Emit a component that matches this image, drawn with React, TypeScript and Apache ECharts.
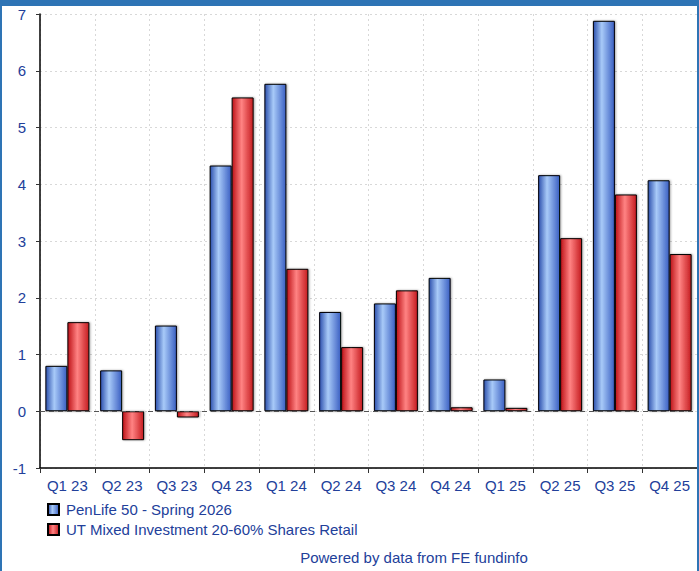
import React, { useEffect, useRef } from "react";
import * as echarts from "echarts";

const categories = ["Q1 23", "Q2 23", "Q3 23", "Q4 23", "Q1 24", "Q2 24", "Q3 24", "Q4 24", "Q1 25", "Q2 25", "Q3 25", "Q4 25"];
const penlife = [0.8, 0.72, 1.51, 4.33, 5.77, 1.75, 1.9, 2.35, 0.56, 4.16, 6.88, 4.07];
const sector = [1.57, -0.51, -0.11, 5.53, 2.51, 1.13, 2.13, 0.07, 0.06, 3.05, 3.82, 2.77];
const seriesNames = ["PenLife 50 - Spring 2026", "UT Mixed Investment 20-60% Shares Retail"];
const yTicks = { min: -1, max: 7, interval: 1 };
const footer = "Powered by data from FE fundinfo";

const TEXT = "#22409a";
const FONT = "'Liberation Sans', Arial, sans-serif";

const blueGrad = new echarts.graphic.LinearGradient(0, 0, 1, 0, [
  { offset: 0, color: "#2c50ad" },
  { offset: 0.4, color: "#a8caf8" },
  { offset: 1, color: "#3a5fc2" },
]);
const redGrad = new echarts.graphic.LinearGradient(0, 0, 1, 0, [
  { offset: 0, color: "#bd1217" },
  { offset: 0.45, color: "#ff8383" },
  { offset: 1, color: "#c51c20" },
]);

export default function App() {
  const ref = useRef<HTMLDivElement>(null);
  useEffect(() => {
    if (!ref.current) return;
    const chart = echarts.init(ref.current, null, { renderer: "svg" });
    const barStyle = (c: any) => ({
      color: c,
      borderColor: "#000",
      borderWidth: 1,
      shadowColor: "rgba(0,0,0,0.35)",
      shadowBlur: 2,
      shadowOffsetX: 1,
      shadowOffsetY: 0,
    });
    chart.setOption({
      animation: false,
      backgroundColor: "#fff",
      textStyle: { fontFamily: FONT },
      grid: { left: 40, right: 2, top: 14, bottom: 103, containLabel: false },
      legend: {
        orient: "vertical",
        left: 47,
        top: 502,
        padding: 0,
        icon: "rect",
        itemWidth: 11,
        itemHeight: 11,
        itemGap: 5,
        selectedMode: false,
        textStyle: { color: TEXT, fontSize: 15, fontFamily: FONT, padding: [0, 0, 0, 2] },
        data: seriesNames,
      },
      xAxis: {
        type: "category",
        data: categories,
        axisLine: { onZero: false, lineStyle: { color: "#000", width: 1.5 } },
        axisTick: { show: true, length: 5, lineStyle: { color: "#333" } },
        axisLabel: { color: TEXT, fontSize: 15, margin: 10, fontFamily: FONT },
        splitLine: { show: true, lineStyle: { color: "#d8d8d8", type: [2, 3] } },
      },
      yAxis: {
        type: "value",
        min: yTicks.min,
        max: yTicks.max,
        interval: yTicks.interval,
        axisLine: { show: true, lineStyle: { color: "#000", width: 1.5 } },
        axisTick: { show: true, length: 4, lineStyle: { color: "#333" } },
        axisLabel: { color: TEXT, fontSize: 15, margin: 14, fontFamily: FONT },
        splitLine: { show: true, lineStyle: { color: "#d8d8d8", type: [2, 3] } },
      },
      series: [
        {
          name: seriesNames[0],
          type: "bar",
          data: penlife,
          barWidth: 22,
          barGap: "0%",
          itemStyle: barStyle(blueGrad),
          markLine: {
            silent: true,
            symbol: "none",
            label: { show: false },
            lineStyle: { color: "#555", type: [5, 4], width: 1 },
            data: [{ yAxis: 0 }],
            z: 10,
          },
        },
        {
          name: seriesNames[1],
          type: "bar",
          data: sector,
          barWidth: 22,
          barGap: "0%",
          itemStyle: barStyle(redGrad),
        },
      ],
      graphic: [
        { type: "rect", left: 0, top: 0, shape: { width: 699, height: 6 }, style: { fill: "#2e74b5" }, z: 100 },
        { type: "rect", left: 0, top: 0, shape: { width: 2, height: 571 }, style: { fill: "#2e74b5" }, z: 100 },
        { type: "rect", left: 697, top: 0, shape: { width: 2, height: 571 }, style: { fill: "#2e74b5" }, z: 100 },
        {
          type: "text",
          x: 414,
          y: 550,
          style: { text: footer, fill: TEXT, font: `15px ${FONT}`, textAlign: "center" },
        },
      ],
    });
    return () => chart.dispose();
  }, []);
  return <div ref={ref} style={{ position: "fixed", left: 0, top: 0, width: 699, height: 571 }} />;
}
